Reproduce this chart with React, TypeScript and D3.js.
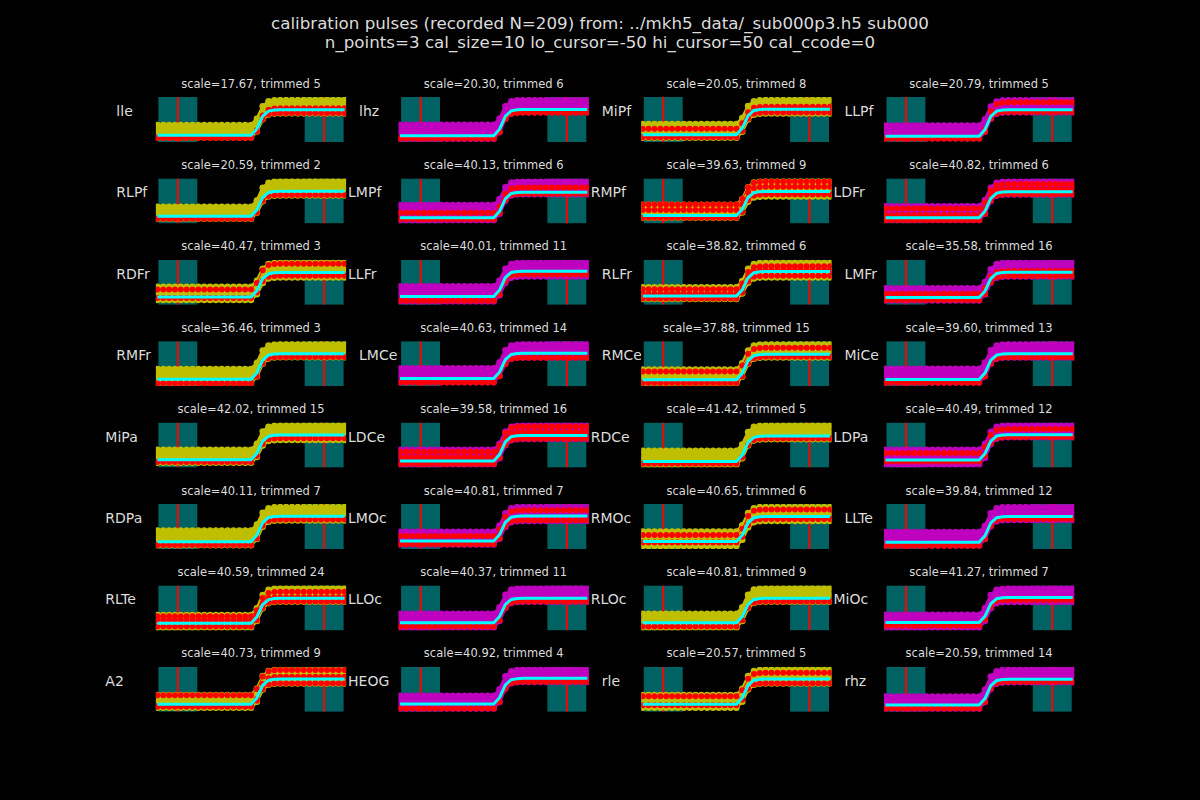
import React, { useEffect, useRef } from 'react';
import * as d3 from 'd3';

// channel names, row-major order (4 per row)
const channels = [
  'lle', 'lhz', 'MiPf', 'LLPf',
  'RLPf', 'LMPf', 'RMPf', 'LDFr',
  'RDFr', 'LLFr', 'RLFr', 'LMFr',
  'RMFr', 'LMCe', 'RMCe', 'MiCe',
  'MiPa', 'LDCe', 'RDCe', 'LDPa',
  'RDPa', 'LMOc', 'RMOc', 'LLTe',
  'RLTe', 'LLOc', 'RLOc', 'MiOc',
  'A2', 'HEOG', 'rle', 'rhz',
];

const scales = [
  17.67, 20.3, 20.05, 20.79,
  20.59, 40.13, 39.63, 40.82,
  40.47, 40.01, 38.82, 35.58,
  36.46, 40.63, 37.88, 39.6,
  42.02, 39.58, 41.42, 40.49,
  40.11, 40.81, 40.65, 39.84,
  40.59, 40.37, 40.81, 41.27,
  40.73, 40.92, 20.57, 20.59,
];

const trimmed = [
  5, 6, 8, 5,
  2, 6, 9, 6,
  3, 11, 6, 16,
  3, 14, 15, 13,
  15, 16, 5, 12,
  7, 7, 6, 12,
  24, 11, 9, 7,
  9, 4, 5, 14,
];

// sample times (ms) and the mean calibration step (cal_size = 10)
const sampleMs = [
  -64, -60, -56, -52, -48, -44, -40, -36, -32, -28, -24, -20, -16, -12, -8, -4, 0,
  4, 8, 12, 16, 20, 24, 28, 32, 36, 40, 44, 48, 52, 56, 60, 64,
];
const meanShape = [
  0, 0, 0, 0, 0, 0, 0, 0, 0, 0, 0, 0, 0, 0, 0, 0, 0,
  2.5, 7.5, 9.5, 9.9, 10, 10, 10, 10, 10, 10, 10, 10, 10, 10, 10, 10,
];

// kept pulses: [bottom, top] offsets at baseline and at plateau
const bandLow = [
  [-0.8, 4.0], [-1.2, 4.2], [-1.2, 4.2], [-0.8, 4.0],
  [-1.0, 3.7], [-1.0, 5.0], [-1.0, 4.4], [-1.0, 4.4],
  [-1.2, 4.2], [-2.0, 4.0], [-1.2, 3.6], [-1.2, 3.6],
  [-1.4, 4.0], [-1.4, 4.0], [-1.4, 4.0], [-1.2, 4.2],
  [-1.2, 4.0], [-1.4, 4.4], [-1.2, 4.2], [-1.8, 4.0],
  [-1.4, 4.4], [-1.4, 3.7], [-1.8, 4.0], [-1.2, 4.0],
  [-1.7, 3.3], [-1.9, 3.7], [-1.9, 3.7], [-1.9, 3.1],
  [-1.4, 3.6], [-1.8, 3.2], [-1.4, 3.6], [-1.4, 3.3],
];
const bandHigh = [
  [-1.4, 3.8], [-1.0, 3.6], [-1.7, 3.6], [-1.0, 3.6],
  [-1.7, 3.9], [-0.8, 4.2], [-2.1, 4.2], [-1.0, 4.0],
  [-2.0, 4.0], [-2.1, 3.3], [-2.4, 3.6], [-1.7, 3.7],
  [-1.4, 3.7], [-1.7, 3.5], [-1.2, 4.0], [-1.4, 3.7],
  [-2.0, 3.8], [-1.4, 3.8], [-1.2, 4.1], [-1.0, 3.6],
  [-1.7, 3.6], [-2.0, 3.6], [-1.8, 3.8], [-1.4, 3.6],
  [-1.4, 4.0], [-1.4, 4.0], [-1.4, 4.0], [-1.8, 3.6],
  [-1.8, 3.6], [-1.4, 3.3], [-1.8, 3.6], [-1.2, 3.6],
];

// trimmed pulses: [baseline offset, plateau offset]
const redTraces = [
  [[-0.9, 0.6], [-0.9, -1.3]],
  [[-1.0, -0.8], [-1.1, -1.2]],
  [[2.3, 1.0], [-1.0, -1.3]],
  [[-0.9, -0.9], [-0.9, 2.8]],
  [[-1.0, -1.5]],
  [[2.0, 1.8], [-0.6, -0.6]],
  [[4.6, 4.1], [2.3, 1.9], [-1.0, -1.3]],
  [[3.6, 3.0], [1.0, 1.0], [-1.0, -0.9]],
  [[3.1, 3.6], [-0.4, -1.3]],
  [[-1.7, -1.3]],
  [[2.8, 2.2], [0.9, 0.5], [-1.0, -1.7]],
  [[1.5, 0.5], [-1.0, -1.5]],
  [[-1.5, -1.3]],
  [[-1.5, -1.8]],
  [[3.2, 2.6], [-1.3, -1.0]],
  [[-1.3, -1.3]],
  [[-0.9, -1.3]],
  [[3.6, 3.5], [1.4, 1.3], [-1.2, -1.3]],
  [[-0.9, -1.0]],
  [[2.8, 2.3], [-0.6, -0.9]],
  [[-1.3, -1.3]],
  [[2.0, 2.3], [-1.3, -1.7]],
  [[2.6, 2.8], [-0.4, -1.0]],
  [[-1.3, -1.0]],
  [[2.8, 2.6], [1.3, 0.4], [-1.3, -1.3]],
  [[-1.5, -1.3]],
  [[-1.5, -1.3]],
  [[-1.3, -1.0]],
  [[3.5, 3.5], [-0.9, 0.9], [-0.9, -1.7]],
  [[-1.7, -1.3]],
  [[3.2, 2.4], [-0.4, -1.7]],
  [[-1.3, -1.0]],
];

// layout only: labels that sit further left (wider hidden tick labels)
const wideLabel = [
  0, 0, 0, 0,
  0, 1, 1, 1,
  0, 1, 0, 0,
  0, 0, 0, 0,
  1, 1, 1, 1,
  1, 1, 1, 0,
  1, 1, 1, 1,
  1, 1, 0, 0,
];

const W = 1200;
const H = 800;
const FONT = '"DejaVu Sans", sans-serif';
const TXT = '#dcdcdc';
const TEAL = '#006262';

function App() {
  const ref = useRef<SVGSVGElement>(null);

  useEffect(() => {
    const svg = d3.select(ref.current);
    svg.selectAll('*').remove();

    svg.append('rect').attr('width', W).attr('height', H).attr('fill', '#000');

    svg.append('text')
      .attr('x', 600).attr('y', 28.5)
      .attr('text-anchor', 'middle')
      .attr('fill', TXT)
      .style('font', `16.7px ${FONT}`)
      .text('calibration pulses (recorded N=209) from: ../mkh5_data/_sub000p3.h5 sub000');
    svg.append('text')
      .attr('x', 600).attr('y', 47.5)
      .attr('text-anchor', 'middle')
      .attr('fill', TXT)
      .style('font', `16.7px ${FONT}`)
      .text('n_points=3 cal_size=10 lo_cursor=-50 hi_cursor=50 cal_ccode=0');

    const defs = svg.append('defs');
    const labels = svg.append('g');
    const panels = svg.append('g');

    const trace = (lo: number, hi: number) =>
      sampleMs.map((t, k) => ({ t, v: lo + (meanShape[k] * (10 + hi - lo)) / 10 }));

    channels.forEach((name, i) => {
      const row = Math.floor(i / 4);
      const col = i % 4;
      const cx = 251 + col * 242.7;
      const top = 97 + row * 81.4;
      const ph = 45;
      const color = col % 2 === 0 ? '#bfbf00' : '#bf00bf';

      const x = d3.scaleLinear().domain([-50, 50]).range([cx - 73.15, cx + 73.15]);
      const reds = redTraces[i];
      const yMin = d3.min([bandLow[i][0], bandHigh[i][0], ...reds.map((d) => d[0]), ...reds.map((d) => d[1])]) as number;
      const yMax = 10 + (d3.max([bandHigh[i][1], ...reds.map((d) => d[1])]) as number);
      const y = d3.scaleLinear().domain([yMin - 1.2, yMax + 1.2]).range([top + ph, top]);

      const ax0 = x(-64) - 1.5;
      const ax1 = x(64) + 1.5;

      labels.append('text')
        .attr('x', x(-64) - (wideLabel[i] ? 52 : 41))
        .attr('y', top + 19)
        .attr('fill', TXT)
        .style('font', `14px ${FONT}`)
        .text(name);

      defs.append('clipPath').attr('id', `clip${i}`)
        .append('rect').attr('x', ax0).attr('y', top).attr('width', ax1 - ax0).attr('height', ph);

      const g = panels.append('g');
      g.append('rect').attr('x', ax0).attr('y', top).attr('width', ax1 - ax0).attr('height', ph).attr('fill', '#000');

      g.append('text')
        .attr('x', cx).attr('y', top - 9.5)
        .attr('text-anchor', 'middle')
        .attr('fill', TXT)
        .style('font', `11.5px ${FONT}`)
        .text(`scale=${scales[i].toFixed(2)}, trimmed ${trimmed[i]}`);

      const p = g.append('g').attr('clip-path', `url(#clip${i})`);

      [[-63.3, -36.7], [36.7, 63.3]].forEach(([a, b]) => {
        p.append('rect').attr('x', x(a)).attr('y', top).attr('width', x(b) - x(a)).attr('height', ph).attr('fill', TEAL);
      });
      [-50, 50].forEach((c) => {
        p.append('line').attr('x1', x(c)).attr('x2', x(c)).attr('y1', top).attr('y2', top + ph)
          .attr('stroke', '#ff0000').attr('stroke-width', 2);
      });

      const bot = trace(bandLow[i][0], bandHigh[i][0]);
      const tp = trace(bandLow[i][1], bandHigh[i][1]);
      const mid = trace((bandLow[i][0] + bandLow[i][1]) / 2, (bandHigh[i][0] + bandHigh[i][1]) / 2);

      const area = d3.area<number>()
        .x((k) => x(sampleMs[k]))
        .y0((k) => y(bot[k].v))
        .y1((k) => y(tp[k].v));
      p.append('path').datum(sampleMs.map((_, k) => k))
        .attr('d', area).attr('fill', color).attr('stroke', color).attr('stroke-width', 3);

      const line = d3.line<{ t: number; v: number }>().x((d) => x(d.t)).y((d) => y(d.v));

      [bot, mid, tp].forEach((tr) => {
        p.append('path').datum(tr).attr('d', line).attr('fill', 'none').attr('stroke', color).attr('stroke-width', 1.5);
        p.append('g').selectAll('circle').data(tr).join('circle')
          .attr('cx', (d) => x(d.t)).attr('cy', (d) => y(d.v)).attr('r', 3.3).attr('fill', color);
      });

      reds.forEach(([lo, hi]) => {
        const tr = trace(lo, hi);
        p.append('path').datum(tr).attr('d', line).attr('fill', 'none').attr('stroke', '#ff0000').attr('stroke-width', 1);
        p.append('g').selectAll('circle').data(tr).join('circle')
          .attr('cx', (d) => x(d.t)).attr('cy', (d) => y(d.v)).attr('r', 3).attr('fill', '#ff0000');
      });

      p.append('path').datum(trace(0, 0)).attr('d', line)
        .attr('fill', 'none').attr('stroke', '#00ffff').attr('stroke-width', 3);
    });
  }, []);

  return (
    <svg
      ref={ref}
      width={W}
      height={H}
      style={{ position: 'absolute', left: 0, top: 0, display: 'block' }}
    />
  );
}

export default App;
